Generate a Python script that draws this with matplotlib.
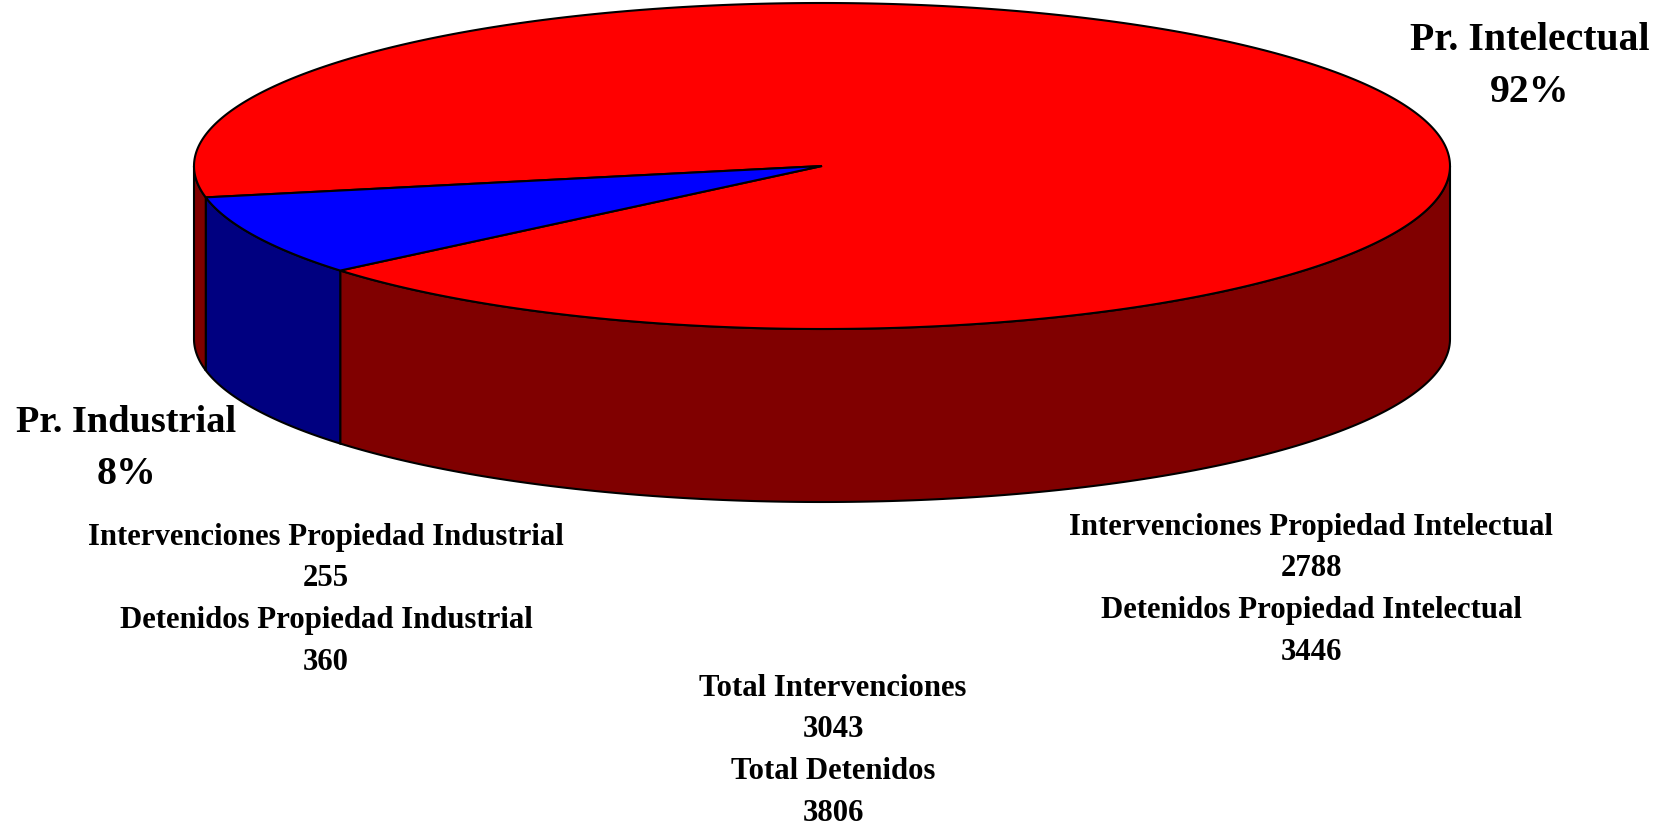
import matplotlib
matplotlib.use("Agg")
import matplotlib.pyplot as plt
import numpy as np

# values as printed on the chart
categories = ["Pr. Intelectual", "Pr. Industrial"]
percentages = [92, 8]
interv_labels = ["Intervenciones Propiedad Intelectual", "Intervenciones Propiedad Industrial", "Total Intervenciones"]
interv_values = [2788, 255, 3043]
deten_labels = ["Detenidos Propiedad Intelectual", "Detenidos Propiedad Industrial", "Total Detenidos"]
deten_values = [3446, 360, 3806]

plt.rcParams["font.family"] = ["Liberation Serif", "DejaVu Serif"]
plt.rcParams["font.weight"] = "bold"

W, H = 1667, 827
CX, CY = 822, 166      # centre of the top ellipse
A, B = 628, 163        # radii
DEPTH = 173
START = 140.1          # angle where the blue slice starts, screen coords (y down)

RED, DARK_RED = "#ff0000", "#800000"
BLUE, DARK_BLUE = "#0000ff", "#000080"


def ell(t):
    t = np.radians(t)
    return CX + A * np.cos(t), CY + B * np.sin(t)


def wall(t0, t1, color):
    # side wall between two angles, only the part facing the viewer
    t0, t1 = max(t0, 0), min(t1, 180)
    if t1 <= t0:
        return
    x, y = ell(np.linspace(t0, t1, 200))
    px = np.r_[x, x[::-1]]
    py = np.r_[y, y[::-1] + DEPTH]
    ax.fill(px, py, facecolor=color, edgecolor="black", lw=1.5, zorder=2)


def wedge(t0, t1, color):
    x, y = ell(np.linspace(t0, t1, 600))
    ax.fill(np.r_[CX, x], np.r_[CY, y], facecolor=color, edgecolor="black", lw=1.5, zorder=3)


fig = plt.figure(figsize=(W / 100, H / 100), dpi=100)
ax = fig.add_axes([0, 0, 1, 1])
ax.set_xlim(0, W)
ax.set_ylim(H, 0)
ax.axis("off")

blue_sweep = 360 * percentages[1] / sum(percentages)
blue_end = START + blue_sweep

# walls: red front, blue, then the small red piece left of the blue one
wall(0, START, DARK_RED)
wall(START, blue_end, DARK_BLUE)
wall(blue_end, 180, DARK_RED)

wedge(blue_end, START + 360, RED)
wedge(START, blue_end, BLUE)

big = dict(ha="center", va="center", fontsize=28.6)
small = dict(ha="center", va="center", fontsize=22.15)

ax.text(1530, 40, categories[0], **big)
ax.text(1530, 93, "%d%%" % percentages[0], **big)
ax.text(126, 422, categories[1], ha="center", va="center", fontsize=27.6)
ax.text(126, 475, "%d%%" % percentages[1], **big)


def block(x, y, i):
    step = 41.7
    ax.text(x, y, interv_labels[i], **small)
    ax.text(x, y + step, str(interv_values[i]), **small)
    ax.text(x, y + 2 * step, deten_labels[i], **small)
    ax.text(x, y + 3 * step, str(deten_values[i]), **small)


block(1311, 527, 0)
block(326, 537, 1)
block(833, 688, 2)

fig.savefig("out.png", dpi=100)
